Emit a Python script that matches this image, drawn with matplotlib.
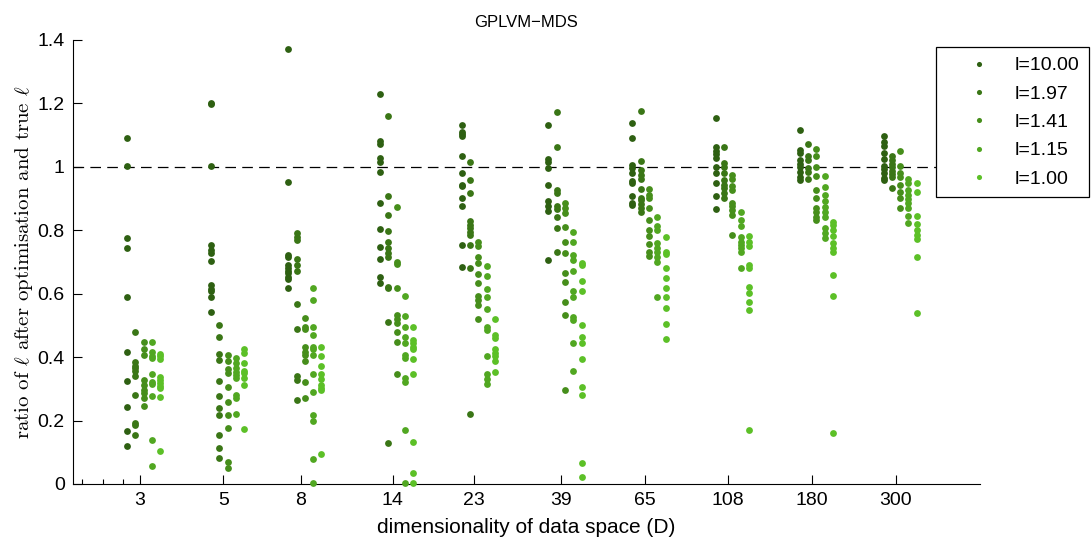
import numpy as np
import matplotlib
matplotlib.use("Agg")
import matplotlib.pyplot as plt
from matplotlib.ticker import FixedLocator, NullFormatter

plt.rcParams["font.family"] = ["Liberation Sans", "DejaVu Sans"]
plt.rcParams["mathtext.fontset"] = "cm"

# --- data ---
dims = [3, 5, 8, 14, 23, 39, 65, 108, 180, 300]
labels = ["l=10.00", "l=1.97", "l=1.41", "l=1.15", "l=1.00"]
colors = ["#2e6012", "#3a7616", "#468e1b", "#51a721", "#5cc027"]

ratio_l1000 = [
    [1.091, 1.003, 0.777, 0.744, 0.591, 0.416, 0.326, 0.242, 0.167, 0.120],
    [1.202, 1.198, 1.004, 0.752, 0.738, 0.728, 0.704, 0.626, 0.615, 0.607, 0.588, 0.543],
    [1.371, 0.953, 0.722, 0.717, 0.691, 0.680, 0.673, 0.665, 0.654, 0.646, 0.617],
    [1.230, 1.080, 1.073, 1.027, 1.014, 0.985, 0.885, 0.803, 0.747, 0.709, 0.652, 0.633],
    [1.132, 1.111, 1.104, 1.096, 1.035, 0.980, 0.943, 0.938, 0.901, 0.875, 0.754, 0.685],
    [1.132, 1.025, 1.014, 0.996, 0.943, 0.891, 0.875, 0.861, 0.707],
    [1.138, 1.091, 1.006, 0.996, 0.980, 0.954, 0.949, 0.909, 0.885, 0.880],
    [1.154, 1.062, 1.051, 1.041, 1.027, 0.999, 0.982, 0.950, 0.909, 0.867],
    [1.117, 1.054, 1.043, 1.022, 1.009, 0.999, 0.985, 0.969, 0.959],
    [1.098, 1.077, 1.066, 1.045, 1.024, 1.003, 0.993, 0.980, 0.964, 0.957],
]
ratio_l197 = [
    [0.478, 0.384, 0.373, 0.365, 0.357, 0.341, 0.280, 0.192, 0.185, 0.155],
    [0.502, 0.462, 0.409, 0.391, 0.326, 0.278, 0.238, 0.218, 0.155, 0.113, 0.083],
    [0.791, 0.780, 0.770, 0.709, 0.689, 0.673, 0.567, 0.489, 0.342, 0.328, 0.265],
    [1.159, 0.909, 0.849, 0.798, 0.764, 0.743, 0.728, 0.717, 0.622, 0.617, 0.510, 0.130],
    [1.014, 0.959, 0.919, 0.828, 0.817, 0.807, 0.796, 0.785, 0.754, 0.680, 0.221],
    [1.172, 1.062, 0.927, 0.919, 0.875, 0.868, 0.843, 0.807, 0.730],
    [1.177, 1.017, 0.991, 0.975, 0.961, 0.930, 0.901, 0.894, 0.883, 0.870, 0.859],
    [1.061, 1.012, 0.999, 0.982, 0.959, 0.943, 0.933, 0.917, 0.901],
    [1.072, 1.033, 1.022, 0.996, 0.985, 0.961],
    [1.035, 1.022, 1.009, 0.999, 0.988, 0.978, 0.969, 0.933],
]
ratio_l141 = [
    [0.447, 0.426, 0.407, 0.328, 0.312, 0.297, 0.286, 0.271, 0.246],
    [0.407, 0.389, 0.362, 0.351, 0.307, 0.260, 0.218, 0.178, 0.068, 0.050],
    [0.523, 0.496, 0.488, 0.433, 0.417, 0.407, 0.388, 0.320, 0.272],
    [0.872, 0.701, 0.693, 0.619, 0.532, 0.521, 0.507, 0.479, 0.447, 0.347],
    [0.764, 0.749, 0.717, 0.696, 0.662, 0.635, 0.593, 0.580, 0.565, 0.520],
    [0.887, 0.870, 0.856, 0.810, 0.764, 0.728, 0.665, 0.638, 0.575, 0.532, 0.297],
    [0.930, 0.912, 0.901, 0.870, 0.833, 0.801, 0.783, 0.757, 0.730, 0.719],
    [0.975, 0.961, 0.938, 0.927, 0.887, 0.877, 0.864, 0.849, 0.785],
    [1.057, 1.035, 1.001, 0.972, 0.927, 0.901, 0.870, 0.857, 0.843, 0.833],
    [1.051, 1.003, 0.980, 0.969, 0.943, 0.922, 0.901, 0.870],
]
ratio_l115 = [
    [0.447, 0.415, 0.405, 0.397, 0.347, 0.321, 0.315, 0.278, 0.139, 0.057],
    [0.396, 0.381, 0.365, 0.354, 0.344, 0.333, 0.281, 0.270, 0.220],
    [0.619, 0.580, 0.496, 0.469, 0.433, 0.425, 0.407, 0.346, 0.291, 0.218, 0.200, 0.079, 0.002],
    [0.593, 0.531, 0.494, 0.462, 0.444, 0.407, 0.396, 0.335, 0.323, 0.170, 0.002],
    [0.688, 0.656, 0.614, 0.589, 0.553, 0.496, 0.486, 0.404, 0.347, 0.330, 0.315],
    [0.796, 0.762, 0.722, 0.707, 0.670, 0.607, 0.591, 0.528, 0.517, 0.444, 0.357],
    [0.841, 0.815, 0.801, 0.759, 0.743, 0.730, 0.717, 0.701, 0.591],
    [0.859, 0.833, 0.812, 0.780, 0.764, 0.754, 0.743, 0.730, 0.682],
    [0.972, 0.936, 0.912, 0.891, 0.873, 0.859, 0.843, 0.807, 0.791, 0.775],
    [0.961, 0.949, 0.927, 0.912, 0.898, 0.885, 0.870, 0.845, 0.822],
]
ratio_l100 = [
    [0.409, 0.402, 0.393, 0.338, 0.328, 0.318, 0.310, 0.302, 0.274, 0.104],
    [0.425, 0.414, 0.381, 0.356, 0.349, 0.333, 0.312, 0.172],
    [0.431, 0.402, 0.373, 0.346, 0.331, 0.312, 0.302, 0.297, 0.094],
    [0.496, 0.454, 0.444, 0.433, 0.425, 0.395, 0.347, 0.132, 0.034, 0.002],
    [0.520, 0.470, 0.460, 0.425, 0.412, 0.402, 0.388, 0.352],
    [0.698, 0.691, 0.640, 0.607, 0.502, 0.462, 0.444, 0.393, 0.307, 0.281, 0.065, 0.021],
    [0.778, 0.730, 0.726, 0.680, 0.651, 0.617, 0.591, 0.554, 0.504, 0.456],
    [0.782, 0.764, 0.749, 0.689, 0.682, 0.622, 0.602, 0.575, 0.549, 0.170],
    [0.827, 0.817, 0.801, 0.782, 0.759, 0.743, 0.733, 0.659, 0.594, 0.162],
    [0.949, 0.922, 0.845, 0.820, 0.801, 0.785, 0.772, 0.717, 0.540],
]
groups = [ratio_l1000, ratio_l197, ratio_l141, ratio_l115, ratio_l100]

# --- plot ---
fig = plt.figure(figsize=(10.91, 5.41), dpi=100)
ax = fig.add_axes([0.0669, 0.1054, 0.8313, 0.8207])

col_step = 0.0219  # spacing of the groups in log10 units
for k, (grp, col, lab) in enumerate(zip(groups, colors, labels)):
    xs, ys = [], []
    for d, vals in zip(dims, grp):
        xs += [d * 10 ** ((k - 1.5) * col_step)] * len(vals)
        ys += vals
    ax.plot(xs, ys, "o", ms=4.9, mew=0, color=col, label=lab, clip_on=False, zorder=3)

ax.axhline(1, color="black", lw=0.9, dashes=(8.5, 5), zorder=2)

ax.set_xscale("log")
ax.set_xlim(2, 500)
ax.set_ylim(0, 1.4)
ax.xaxis.set_major_locator(FixedLocator(dims))
ax.xaxis.set_major_formatter(plt.FixedFormatter([str(d) for d in dims]))
ax.xaxis.set_minor_locator(FixedLocator([2.11, 2.40, 2.71]))
ax.xaxis.set_minor_formatter(NullFormatter())
ax.set_yticks([0, 0.2, 0.4, 0.6, 0.8, 1.0, 1.2, 1.4])
ax.set_yticklabels(["0", "0.2", "0.4", "0.6", "0.8", "1", "1.2", "1.4"])

for s in ("top", "right"):
    ax.spines[s].set_visible(False)
for s in ("left", "bottom"):
    ax.spines[s].set_linewidth(0.8)
ax.tick_params(which="major", direction="in", length=6.5, width=0.8, labelsize=14, pad=6)
ax.tick_params(which="minor", direction="in", length=3.5, width=0.8)

ax.set_xlabel("dimensionality of data space (D)", fontsize=15, labelpad=6)
ax.set_ylabel(r"ratio of $\ell$ after optimisation and true $\ell$", fontsize=15,
              family=["cmr10", "DejaVu Serif"], labelpad=2)
ax.set_title("GPLVM\u2212MDS", fontsize=12, pad=9)

leg = fig.legend(loc="upper left", bbox_to_anchor=(0.858, 0.913), fontsize=14, markerscale=0.75,
                 frameon=True, fancybox=False, framealpha=1, edgecolor="black",
                 handlelength=3.4, handletextpad=0.15, borderpad=0.5, labelspacing=0.55, borderaxespad=0)
leg.get_frame().set_linewidth(0.9)

fig.savefig("out.png", dpi=100)
